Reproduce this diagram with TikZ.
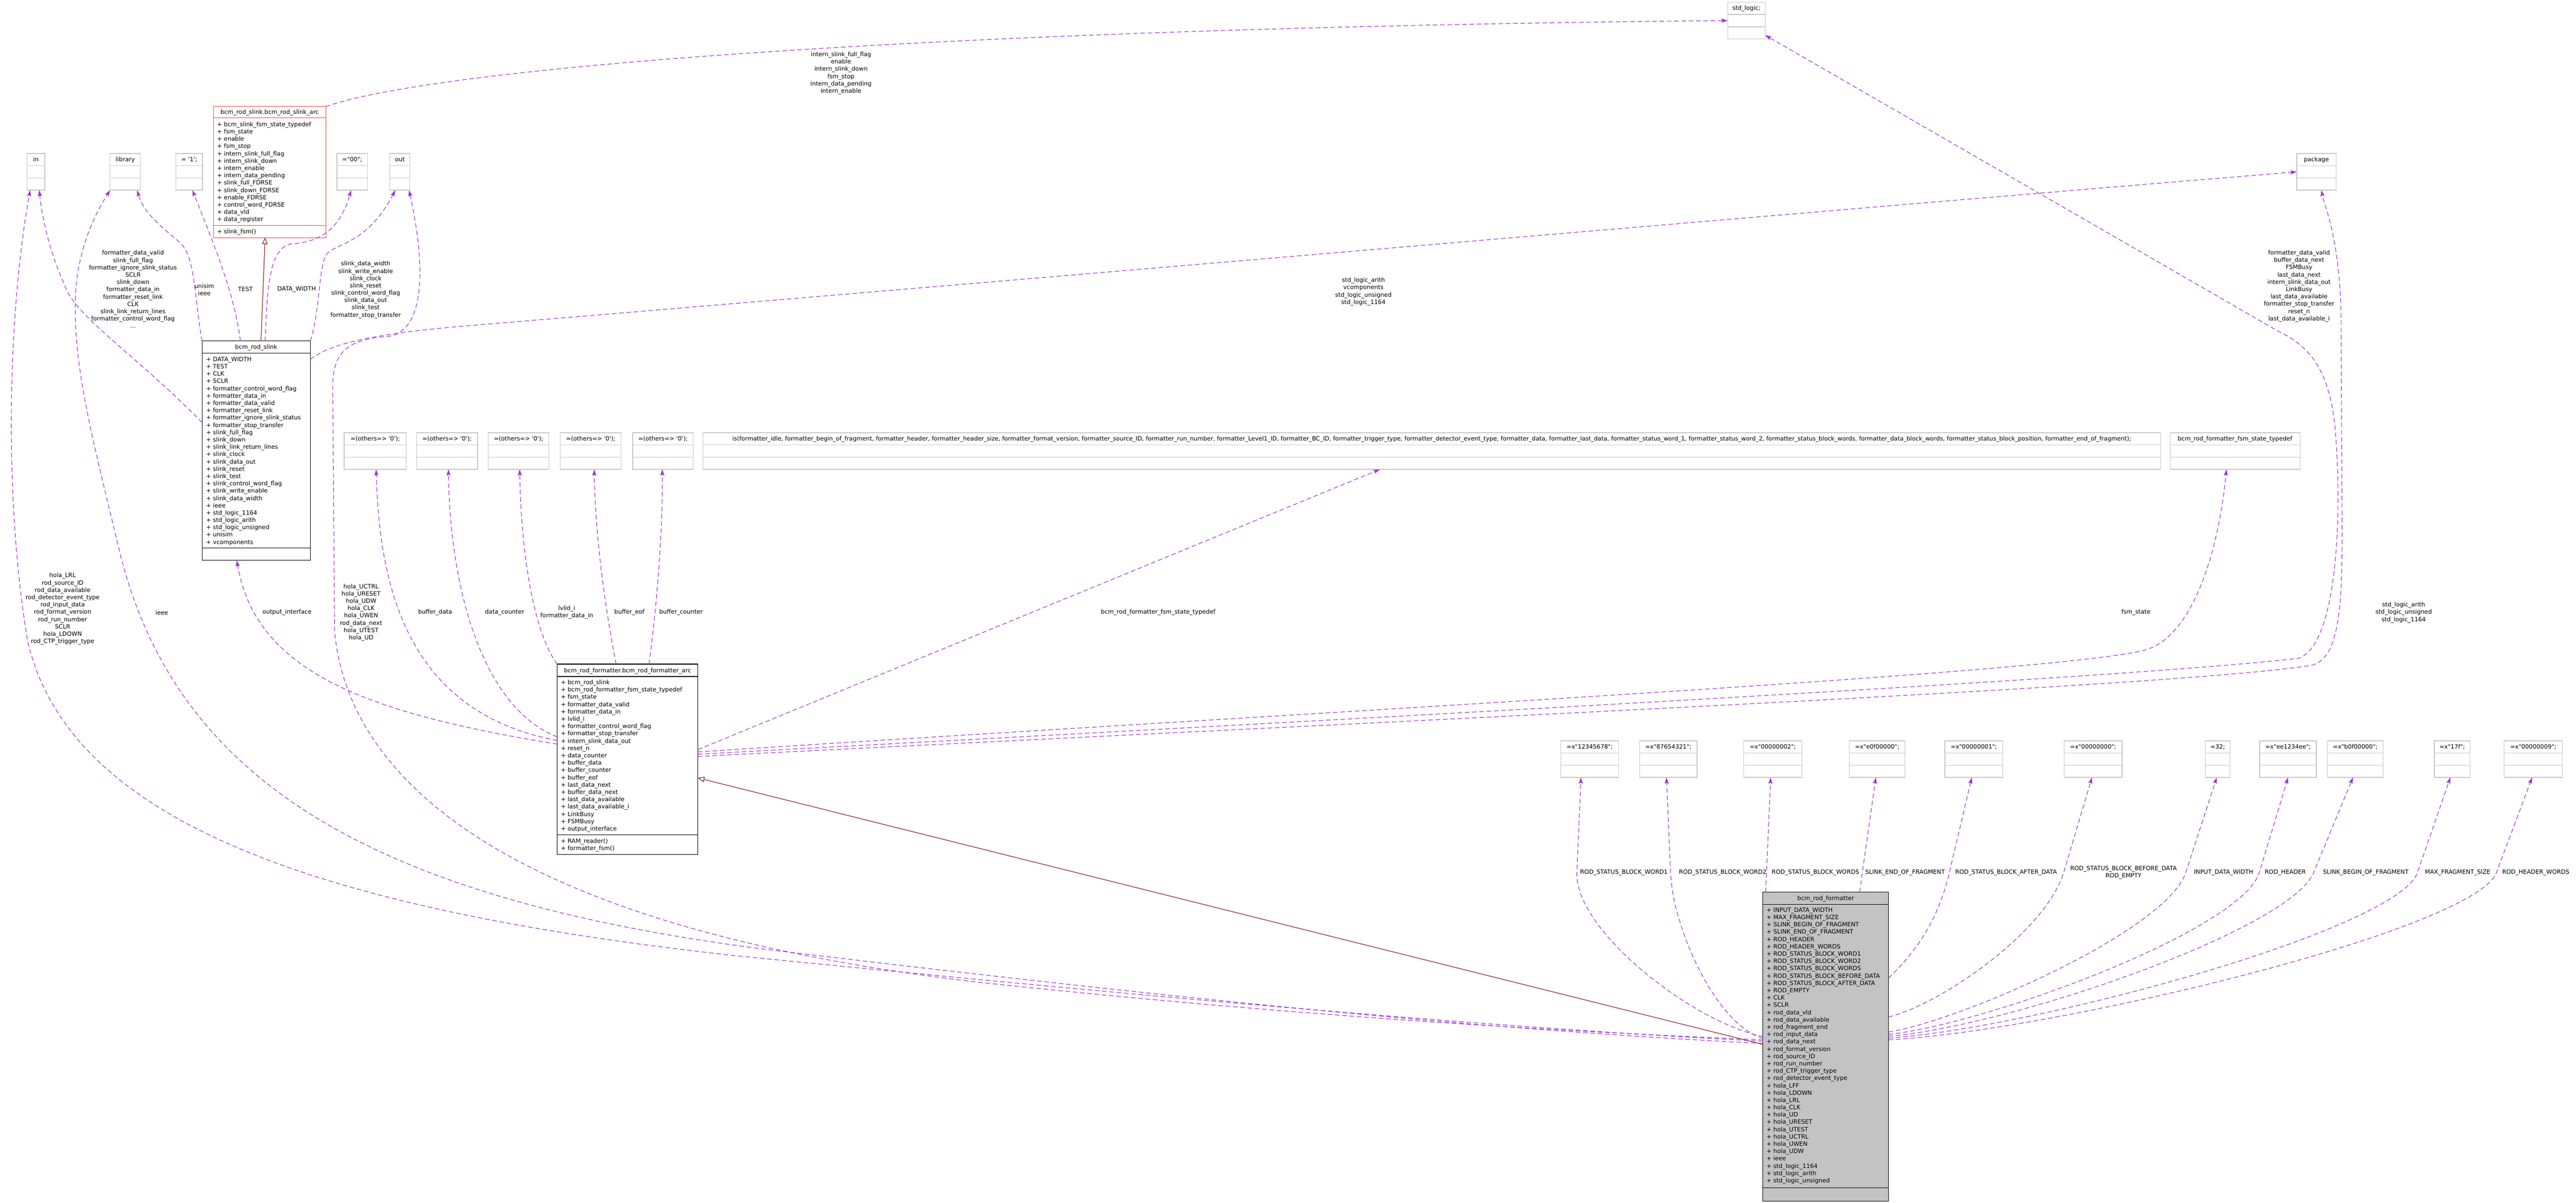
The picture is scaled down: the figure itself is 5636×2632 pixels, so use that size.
\documentclass[tikz,border=0pt]{standalone}
\usepackage{fontspec}
\setmainfont{DejaVu Sans}
\usetikzlibrary{arrows.meta}
\definecolor{purp}{RGB}{154,50,205}
\definecolor{inhred}{RGB}{139,26,26}
\definecolor{boxgray}{RGB}{200,200,200}
\definecolor{arcred}{RGB}{235,70,60}
\definecolor{mainfill}{RGB}{195,195,195}
\newcommand{\fsz}{\fontsize{13}{16}\selectfont}
\tikzset{
 f/.style={font=\fsz, inner sep=0pt, outer sep=0pt},
 attr/.style={f, anchor=base west},
 ttl/.style={f, anchor=base},
 lbl/.style={f, align=center},
 gbox/.style={draw=boxgray, line width=1.5pt, fill=white, inner sep=0pt, outer sep=0pt},
 kbox/.style={draw=black, line width=1.3pt, fill=white, inner sep=0pt, outer sep=0pt},
 abox/.style={draw=arcred, line width=1.3pt, fill=white, inner sep=0pt, outer sep=0pt},
 sepg/.style={draw=boxgray, line width=1.5pt},
 sepk/.style={draw=black, line width=1.3pt},
 sepr/.style={draw=arcred, line width=1.3pt},
 dep/.style={draw=purp, line width=1.3pt, dash pattern=on 10pt off 6pt, -{Stealth[length=14pt,width=9pt,inset=3pt]}},
 inh/.style={draw=inhred, line width=1.3pt, -{Triangle[open,length=14pt,width=12pt]}},
}
\newcommand{\gbx}[5]{%
  \pgfmathsetmacro\gbw{#3-#2}%
  \pgfmathsetmacro\gbc{(#2+#3)/2}%
  \node[gbox, minimum width=\gbw pt, minimum height=80pt, anchor=north west] (#1) at (#2,#4) {};
  \draw[sepg] ({#2},{#4+26.5}) -- ({#3},{#4+26.5});
  \draw[sepg] ({#2},{#4+53.5}) -- ({#3},{#4+53.5});
  \node[ttl] (#1t) at (\gbc,{#4+17.5}) {#5};
}
\begin{document}
\begin{tikzpicture}[x=1pt,y=-1pt]
\useasboundingbox (0,0) rectangle (5636,2632);
\fill[white] (0,0) rectangle (5636,2632);

% ---------- simple boxes ----------
\gbx{std}{3780}{3862}{5}{std\_logic;}
\gbx{pkg}{5025}{5111}{336}{package}
\gbx{inb}{59}{98}{336}{in}
\gbx{lib}{241}{307}{336}{library}
\gbx{one}{385}{443}{336}{= \textquotesingle 1\textquotesingle;}
\gbx{dq}{737}{804}{336}{=\textquotedbl 00\textquotedbl;}
\gbx{outb}{853}{897}{336}{out}
\gbx{o1}{753}{889}{947}{=(others=> \textquotesingle 0\textquotesingle);}
\gbx{o2}{911}{1045}{947}{=(others=> \textquotesingle 0\textquotesingle);}
\gbx{o3}{1068}{1201}{947}{=(others=> \textquotesingle 0\textquotesingle);}
\gbx{o4}{1226}{1359}{947}{=(others=> \textquotesingle 0\textquotesingle);}
\gbx{o5}{1384}{1517}{947}{=(others=> \textquotesingle 0\textquotesingle);}
\gbx{enum}{1538}{4727}{947}{is(formatter\_idle, formatter\_begin\_of\_fragment, formatter\_header, formatter\_header\_size, formatter\_format\_version, formatter\_source\_ID, formatter\_run\_number, formatter\_Level1\_ID, formatter\_BC\_ID, formatter\_trigger\_type, formatter\_detector\_event\_type, formatter\_data, formatter\_last\_data, formatter\_status\_word\_1, formatter\_status\_word\_2, formatter\_status\_block\_words, formatter\_data\_block\_words, formatter\_status\_block\_position, formatter\_end\_of\_fragment);}
\gbx{fsmt}{4748}{5032}{947}{bcm\_rod\_formatter\_fsm\_state\_typedef}
\gbx{c1}{3415}{3541}{1621}{=x\textquotedbl 12345678\textquotedbl;}
\gbx{c2}{3587}{3713}{1621}{=x\textquotedbl 87654321\textquotedbl;}
\gbx{c3}{3815}{3942}{1621}{=x\textquotedbl 00000002\textquotedbl;}
\gbx{c4}{4046}{4168}{1621}{=x\textquotedbl e0f00000\textquotedbl;}
\gbx{c5}{4255}{4382}{1621}{=x\textquotedbl 00000001\textquotedbl;}
\gbx{c6}{4516}{4643}{1621}{=x\textquotedbl 00000000\textquotedbl;}
\gbx{c7}{4825}{4879}{1621}{=32;}
\gbx{c8}{4944}{5068}{1621}{=x\textquotedbl ee1234ee\textquotedbl;}
\gbx{c9}{5092}{5214}{1621}{=x\textquotedbl b0f00000\textquotedbl;}
\gbx{c10}{5326}{5404}{1621}{=x\textquotedbl 17f\textquotedbl;}
\gbx{c11}{5479}{5606}{1621}{=x\textquotedbl 00000009\textquotedbl;}

% ---------- class boxes ----------
\node[abox, minimum width=246pt, minimum height=287pt, anchor=north west] (arc) at (467,233) {};
\draw[sepr] (467,258) -- (713,258);
\draw[sepr] (467,493) -- (713,493);
\node[ttl] (arct) at (590,250) {bcm\_rod\_slink.bcm\_rod\_slink\_arc};
\foreach \itm [count=\i] in {bcm\_slink\_fsm\_state\_typedef, fsm\_state, enable, fsm\_stop, intern\_slink\_full\_flag, intern\_slink\_down, intern\_enable, intern\_data\_pending, slink\_full\_FDRSE, slink\_down\_FDRSE, enable\_FDRSE, control\_word\_FDRSE, data\_vld, data\_register}
  \node[attr] (arca\i) at (475,{276.5+16*(\i-1)}) {+ \itm};
\node[attr] (arcm1) at (475,511.5) {+ slink\_fsm()};

\node[kbox, minimum width=237pt, minimum height=480pt, anchor=north west] (slink) at (442,746) {};
\draw[sepk] (442,773) -- (679,773);
\draw[sepk] (442,1199) -- (679,1199);
\node[ttl] (slinkt) at (560.5,764) {bcm\_rod\_slink};
\foreach \itm [count=\i] in {DATA\_WIDTH, TEST, CLK, SCLR, formatter\_control\_word\_flag, formatter\_data\_in, formatter\_data\_valid, formatter\_reset\_link, formatter\_ignore\_slink\_status, formatter\_stop\_transfer, slink\_full\_flag, slink\_down, slink\_link\_return\_lines, slink\_clock, slink\_data\_out, slink\_reset, slink\_test, slink\_control\_word\_flag, slink\_write\_enable, slink\_data\_width, ieee, std\_logic\_1164, std\_logic\_arith, std\_logic\_unsigned, unisim, vcomponents}
  \node[attr] (slinka\i) at (451,{790.5+16*(\i-1)}) {+ \itm};

\node[kbox, minimum width=308pt, minimum height=416pt, anchor=north west] (farc) at (1219,1453) {};
\draw[sepk] (1219,1480) -- (1527,1480);
\draw[sepk] (1219,1827) -- (1527,1827);
\node[ttl] (farct) at (1373,1471) {bcm\_rod\_formatter.bcm\_rod\_formatter\_arc};
\foreach \itm [count=\i] in {bcm\_rod\_slink, bcm\_rod\_formatter\_fsm\_state\_typedef, fsm\_state, formatter\_data\_valid, formatter\_data\_in, lvlid\_i, formatter\_control\_word\_flag, formatter\_stop\_transfer, intern\_slink\_data\_out, reset\_n, data\_counter, buffer\_data, buffer\_counter, buffer\_eof, last\_data\_next, buffer\_data\_next, last\_data\_available, last\_data\_available\_i, LinkBusy, FSMBusy, output\_interface}
  \node[attr] (farca\i) at (1227,{1497.5+16*(\i-1)}) {+ \itm};
\node[attr] (farcm1) at (1227,1844.5) {+ RAM\_reader()};
\node[attr] (farcm2) at (1227,1860.5) {+ formatter\_fsm()};

\node[kbox, fill=mainfill, minimum width=275pt, minimum height=676pt, anchor=north west] (fmt) at (3857,1952) {};
\draw[sepk] (3857,1979) -- (4132,1979);
\draw[sepk] (3857,2599) -- (4132,2599);
\node[ttl] (fmtt) at (3994.5,1970) {bcm\_rod\_formatter};
\foreach \itm [count=\i] in {INPUT\_DATA\_WIDTH, MAX\_FRAGMENT\_SIZE, SLINK\_BEGIN\_OF\_FRAGMENT, SLINK\_END\_OF\_FRAGMENT, ROD\_HEADER, ROD\_HEADER\_WORDS, ROD\_STATUS\_BLOCK\_WORD1, ROD\_STATUS\_BLOCK\_WORD2, ROD\_STATUS\_BLOCK\_WORDS, ROD\_STATUS\_BLOCK\_BEFORE\_DATA, ROD\_STATUS\_BLOCK\_AFTER\_DATA, ROD\_EMPTY, CLK, SCLR, rod\_data\_vld, rod\_data\_available, rod\_fragment\_end, rod\_input\_data, rod\_data\_next, rod\_format\_version, rod\_source\_ID, rod\_run\_number, rod\_CTP\_trigger\_type, rod\_detector\_event\_type, hola\_LFF, hola\_LDOWN, hola\_LRL, hola\_CLK, hola\_UD, hola\_URESET, hola\_UTEST, hola\_UCTRL, hola\_UWEN, hola\_UDW, ieee, std\_logic\_1164, std\_logic\_arith, std\_logic\_unsigned}
  \node[attr] (fmta\i) at (3865,{1995.5+16*(\i-1)}) {+ \itm};

% ---------- connectors from bcm_rod_slink ----------
\draw[dep] ([yshift=62pt]slink.west) .. controls (290,770) and (160,690) .. (140,620) .. controls (112,560) and (92,480) .. ([xshift=7.5pt]inb.south);
\draw[dep] (slink.north west) .. controls (425,650) and (428,565) .. (395,532) .. controls (365,505) and (315,470) .. ([xshift=26pt]lib.south);
\draw[dep] ([xshift=-34.5pt]slink.north) .. controls (512,640) and (470,540) .. ([xshift=7pt]one.south);
\draw[inh] ([xshift=10.5pt]slink.north) -- ([xshift=-10pt]arc.south);
\draw[dep] ([xshift=19.5pt]slink.north) .. controls (585,620) and (590,540) .. (640,533) .. controls (700,530) and (745,500) .. ([xshift=-2.5pt]dq.south);
\draw[dep] (slink.north east) .. controls (700,680) and (696,600) .. (712,560) .. controls (730,530) and (800,540) .. ([xshift=-10pt]outb.south);
\draw[dep] ([yshift=-40pt]slink.north east) .. controls (720,755) and (800,730) .. (1045,711) .. controls (2500,590) and (4000,460) .. (pkg.west);
% slink arc -> std_logic
\draw[dep] (arc.north east) .. controls (950,150) and (2000,62) .. (std.west);

% ---------- connectors from bcm_rod_formatter (entity) ----------
\draw[dep] ([yshift=12pt]fmt.west) .. controls (3300,2250) and (2600,2190) .. (1600,2090) .. controls (700,1990) and (150,1800) .. (60,1400) .. controls (10,1100) and (15,700) .. ([xshift=-12.5pt]inb.south);
\draw[dep] ([yshift=7pt]fmt.west) .. controls (3300,2255) and (2700,2200) .. (1700,2080) .. controls (800,1970) and (380,1700) .. (260,1200) .. controls (200,950) and (160,800) .. (165,650) .. controls (168,560) and (200,480) .. (lib.south west);
\draw[dep] ([yshift=15pt]fmt.west) .. controls (3500,2260) and (2900,2230) .. (2150,2150) .. controls (1100,2030) and (760,1700) .. (732,1380) -- (728,850) .. controls (727,770) and (760,742) .. (850,736) .. controls (925,725) and (935,600) .. ([xshift=20pt]outb.south);
\draw[inh] ([yshift=5pt]fmt.west) -- ([yshift=-41pt]farc.east);
\draw[dep] ([yshift=22pt]fmt.west) .. controls (3700,2235) and (3445,2034) .. (3450,1909) -- ([xshift=-19pt]c1.south);
\draw[dep] ([yshift=18pt]fmt.west) .. controls (3756,2242) and (3660,2034) .. (3655,1909) -- ([xshift=-4pt]c2.south);
\draw[dep] ([xshift=6pt]fmt.north west) -- ([xshift=-4.5pt]c3.south);
\draw[dep] ([xshift=74pt]fmt.north) -- ([xshift=-3pt]c4.south);
\draw[dep] ([yshift=150pt]fmt.east) .. controls (4172,2100) and (4236,2034) .. (4265,1909) -- ([xshift=-4.5pt]c5.south);
\draw[dep] ([yshift=65pt]fmt.east) .. controls (4252,2195) and (4478,2034) .. (4515,1909) -- ([xshift=-2.5pt]c6.south);
\draw[dep] ([yshift=32pt]fmt.east) .. controls (4300,2230) and (4741,2034) .. (4782,1909) -- ([xshift=-2pt]c7.south);
\draw[dep] ([yshift=27pt]fmt.east) .. controls (4350,2240) and (4905,2034) .. (4943,1909) -- (c8.south);
\draw[dep] ([yshift=23pt]fmt.east) .. controls (4400,2245) and (5010,2034) .. (5062,1909) -- ([xshift=-5pt]c9.south);
\draw[dep] ([yshift=19pt]fmt.east) .. controls (4450,2250) and (5246,2034) .. (5289,1909) -- ([xshift=-4pt]c10.south);
\draw[dep] ([yshift=15pt]fmt.east) .. controls (4500,2255) and (5415,2034) .. (5462,1909) -- ([xshift=-2.5pt]c11.south);

% ---------- connectors from bcm_rod_formatter_arc ----------
\draw[dep] ([yshift=33pt]farc.west) .. controls (800,1560) and (560,1470) .. ([xshift=-42.5pt]slink.south);
\draw[dep] ([yshift=41pt]farc.west) .. controls (900,1560) and (830,1300) .. ([xshift=2pt]o1.south);
\draw[dep] ([yshift=49pt]farc.west) .. controls (1060,1550) and (985,1300) .. ([xshift=3pt]o2.south);
\draw[dep] (farc.north west) .. controls (1165,1380) and (1140,1200) .. ([xshift=2.5pt]o3.south);
\draw[dep] ([xshift=-25pt]farc.north) .. controls (1318,1300) and (1302,1150) .. ([xshift=7.5pt]o4.south);
\draw[dep] ([xshift=47pt]farc.north) .. controls (1440,1300) and (1450,1150) .. ([xshift=-1.5pt]o5.south);
\draw[dep] ([yshift=21pt]farc.east) -- ([xshift=-113.5pt]enum.south);
\draw[dep] ([yshift=16pt]farc.east) .. controls (3000,1550) and (4550,1470) .. (4700,1420) .. controls (4800,1385) and (4855,1200) .. ([xshift=-19pt]fsmt.south);
\draw[dep] ([yshift=11pt]farc.east) .. controls (3200,1560) and (4700,1480) .. (5030,1440) .. controls (5110,1410) and (5125,1150) .. (5110,950) .. controls (5100,820) and (5060,760) .. (4985,725) -- ([yshift=8pt]std.south east);
\draw[dep] ([yshift=6pt]farc.east) .. controls (3200,1570) and (4800,1500) .. (5060,1455) .. controls (5125,1435) and (5125,1300) .. (5124,1100) -- (5122,700) .. controls (5120,520) and (5085,450) .. ([xshift=11pt]pkg.south);

% ---------- labels ----------
\node[lbl] (Lintern) at (1840,160) {intern\_slink\_full\_flag\\enable\\intern\_slink\_down\\fsm\_stop\\intern\_data\_pending\\intern\_enable};
\node[lbl] (Lpkg1) at (2983,638) {std\_logic\_arith\\vcomponents\\std\_logic\_unsigned\\std\_logic\_1164};
\node[lbl] (Lin1) at (291,633) {formatter\_data\_valid\\slink\_full\_flag\\formatter\_ignore\_slink\_status\\SCLR\\slink\_down\\formatter\_data\_in\\formatter\_reset\_link\\CLK\\slink\_link\_return\_lines\\formatter\_control\_word\_flag\\...};
\node[lbl] (Llib1) at (447,634) {unisim\\ieee};
\node[f] (Ltest) at (537,633) {TEST};
\node[f] (Ldw) at (649,633) {DATA\_WIDTH};
\node[lbl] (Lout1) at (800,634) {slink\_data\_width\\slink\_write\_enable\\slink\_clock\\slink\_reset\\slink\_control\_word\_flag\\slink\_data\_out\\slink\_test\\formatter\_stop\_transfer};
\node[lbl] (Lstd2) at (5030,626) {formatter\_data\_valid\\buffer\_data\_next\\FSMBusy\\last\_data\_next\\intern\_slink\_data\_out\\LinkBusy\\last\_data\_available\\formatter\_stop\_transfer\\reset\_n\\last\_data\_available\_i};
\node[lbl] (LinF) at (137,1332) {hola\_LRL\\rod\_source\_ID\\rod\_data\_available\\rod\_detector\_event\_type\\rod\_input\_data\\rod\_format\_version\\rod\_run\_number\\SCLR\\hola\_LDOWN\\rod\_CTP\_trigger\_type};
\node[f] (Lieee) at (354,1340) {ieee};
\node[f] (Loi) at (628,1340) {output\_interface};
\node[lbl] (Lhola) at (790,1340) {hola\_UCTRL\\hola\_URESET\\hola\_UDW\\hola\_CLK\\hola\_UWEN\\rod\_data\_next\\hola\_UTEST\\hola\_UD};
\node[f] (Lbd) at (952,1340) {buffer\_data};
\node[f] (Ldc) at (1104,1340) {data\_counter};
\node[lbl] (Llv) at (1240,1340) {lvlid\_i\\formatter\_data\_in};
\node[f] (Lbe) at (1377,1340) {buffer\_eof};
\node[f] (Lbc) at (1490,1340) {buffer\_counter};
\node[f] (Lenum) at (2534,1340) {bcm\_rod\_formatter\_fsm\_state\_typedef};
\node[f] (Lfsm) at (4673,1340) {fsm\_state};
\node[lbl] (Lpkg2) at (5259,1340) {std\_logic\_arith\\std\_logic\_unsigned\\std\_logic\_1164};
\node[f] (Lc1) at (3553,1909) {ROD\_STATUS\_BLOCK\_WORD1};
\node[f] (Lc2) at (3769,1909) {ROD\_STATUS\_BLOCK\_WORD2};
\node[f] (Lc3) at (3972,1909) {ROD\_STATUS\_BLOCK\_WORDS};
\node[f] (Lc4) at (4168,1909) {SLINK\_END\_OF\_FRAGMENT};
\node[f] (Lc5) at (4389,1909) {ROD\_STATUS\_BLOCK\_AFTER\_DATA};
\node[lbl] (Lc6) at (4646,1909) {ROD\_STATUS\_BLOCK\_BEFORE\_DATA\\ROD\_EMPTY};
\node[f] (Lc7) at (4865,1909) {INPUT\_DATA\_WIDTH};
\node[f] (Lc8) at (5000,1909) {ROD\_HEADER};
\node[f] (Lc9) at (5176,1909) {SLINK\_BEGIN\_OF\_FRAGMENT};
\node[f] (Lc10) at (5377,1909) {MAX\_FRAGMENT\_SIZE};
\node[f] (Lc11) at (5548,1909) {ROD\_HEADER\_WORDS};
\end{tikzpicture}
\end{document}
